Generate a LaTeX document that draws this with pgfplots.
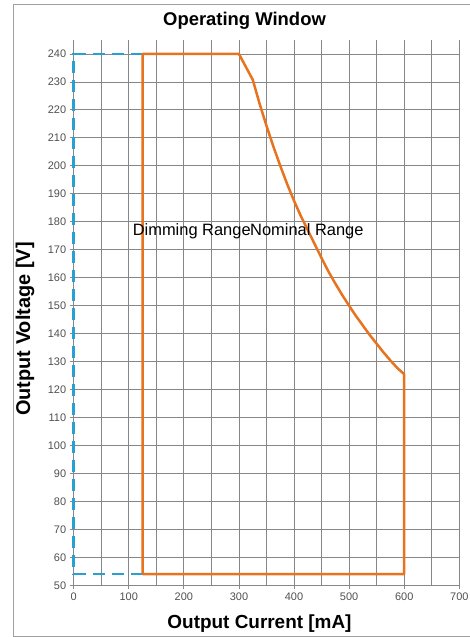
\documentclass[border=0pt]{standalone}
\usepackage{pgfplots}
\pgfplotsset{compat=1.18}
\usepackage{fontspec}
\setmainfont{Liberation Sans}
\definecolor{orangeline}{RGB}{232,115,30}
\definecolor{blueline}{RGB}{40,160,210}
\definecolor{gridgray}{RGB}{135,135,135}
\definecolor{ticktext}{RGB}{80,80,80}
\definecolor{framegray}{RGB}{160,160,160}
\begin{document}
\begin{tikzpicture}[x=1bp,y=1bp]
\path[use as bounding box] (0,0) rectangle (470,-637);
\draw[framegray, line width=1bp] (13,-636) -- (13,-5) -- (480,-5);
\draw[framegray, line width=1bp] (13,-636) -- (480,-636);
\begin{axis}[
  scale only axis, width=385.6bp, height=545.4bp,
  at={(73.7bp,-585.4bp)}, anchor=south west,
  xmin=0, xmax=700, ymin=50, ymax=245,
  xtick={0,100,...,700}, minor xtick={50,150,...,650},
  ytick={50,60,...,240},
  grid=both,
  major grid style={gridgray, line width=0.9bp},
  minor grid style={gridgray, line width=0.9bp},
  axis x line=bottom, axis y line=left,
  axis line style={-, gridgray, line width=1bp},
  tick align=outside, major tick length=4bp, minor tick length=0pt,
  tick style={gridgray, line width=0.9bp},
  tick label style={font=\fontsize{11}{12}\selectfont, text=ticktext},
  /pgf/number format/assume math mode=true,
  clip=false,
]
\addplot[blueline, line width=2.5bp, dash pattern=on 12bp off 7bp] coordinates {(125,54) (0,54) (0,240) (125,240)};
\addplot[orangeline, line width=2.5bp, line join=round, sharp plot] coordinates {
(125,54) (125,240) (300,240) (325,230.8) (337.5,222.2) (350,214.3) (362.5,206.9) (375,200) (387.5,193.5) (400,187.5) (412.5,182) (425,177) (437.5,172) (450,167) (462.5,162.2) (475,157.9) (487.5,153.8) (500,150) (512.5,146.3) (525,142.9) (537.5,139.5) (550,136.4) (562.5,133.3) (575,130.4) (587.5,127.7) (600,125.5) (600,54) (125,54)};
\node[anchor=west, font=\fontsize{16.5}{18}\selectfont, inner sep=0pt] at (axis cs:107,176.8) {Dimming Range};
\node[anchor=west, font=\fontsize{16.5}{18}\selectfont, inner sep=0pt] at (axis cs:320,176.8) {Nominal Range};
\end{axis}
\node[font=\bfseries\fontsize{18.5}{20}\selectfont] at (244.5,-21) {Operating Window};
\node[font=\bfseries\fontsize{19}{21}\selectfont] at (259.5,-624) {Output Current [mA]};
\node[rotate=90, font=\bfseries\fontsize{20}{22}\selectfont] at (25,-329) {Output Voltage [V]};
\end{tikzpicture}
\end{document}
